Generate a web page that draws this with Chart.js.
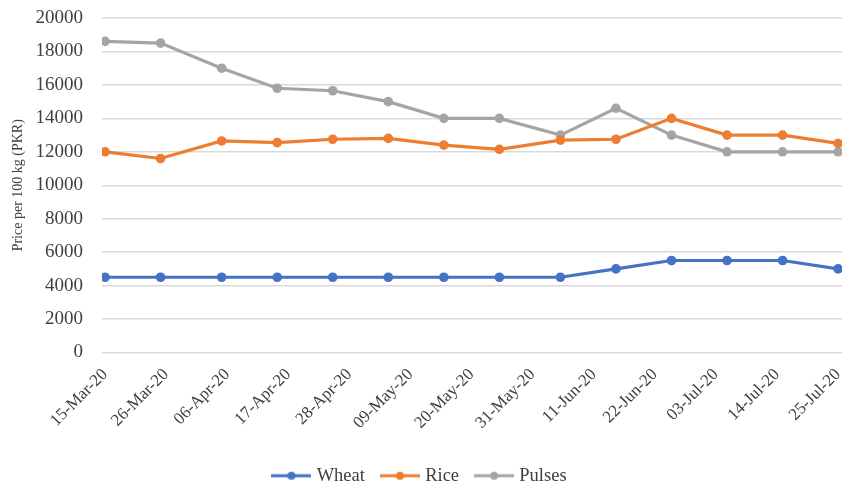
<!DOCTYPE html>
<html>
<head>
<meta charset="utf-8">
<title>Food prices, March–July 2020</title>
<script src="https://cdn.jsdelivr.net/npm/chart.js@4/dist/chart.umd.min.js"></script>
<style>
  html, body { margin: 0; padding: 0; background: #ffffff; }
  #wrap { width: 851px; height: 489px; }
</style>
</head>
<body>
<div id="wrap"><canvas id="chart" width="851" height="489"></canvas></div>
<script>
// Observation dates, as days after 15-Mar-2020 (5th, 15th and 25th of each month)
const pointDays = [0, 10, 21, 31, 41, 51, 61, 71, 82, 92, 102, 112, 122, 132];

// Prices per 100 kg (PKR)
const wheat  = [4500, 4500, 4500, 4500, 4500, 4500, 4500, 4500, 4500, 5000, 5500, 5500, 5500, 5000];
const rice   = [12000, 11600, 12650, 12550, 12750, 12800, 12400, 12150, 12700, 12750, 14000, 13000, 13000, 12500];
const pulses = [18600, 18500, 17000, 15800, 15650, 15000, 14000, 14000, 13000, 14600, 13000, 12000, 12000, 12000];

// Date axis ticks, every 11 days
const tickDays   = [0, 11, 22, 33, 44, 55, 66, 77, 88, 99, 110, 121, 132];
const tickLabels = ['15-Mar-20', '26-Mar-20', '06-Apr-20', '17-Apr-20', '28-Apr-20', '09-May-20',
                    '20-May-20', '31-May-20', '11-Jun-20', '22-Jun-20', '03-Jul-20', '14-Jul-20', '25-Jul-20'];

const seriesNames = ['Wheat', 'Rice', 'Pulses'];
const seriesColors = ['#4472C4', '#ED7D31', '#A5A5A5'];

const FONT = "'Liberation Serif', 'Times New Roman', serif";
const TEXT = '#404040';

function toPoints(values) {
  return pointDays.map((d, i) => ({ x: d, y: values[i] }));
}

// Legend marker: a short line with a dot in the middle
function legendMarker(color) {
  const c = document.createElement('canvas');
  c.width = 40; c.height = 12;
  const g = c.getContext('2d');
  g.strokeStyle = color;
  g.lineWidth = 3;
  g.beginPath(); g.moveTo(0, 6); g.lineTo(40, 6); g.stroke();
  g.fillStyle = color;
  g.beginPath(); g.arc(20, 6, 4, 0, Math.PI * 2); g.fill();
  return c;
}
const markers = seriesColors.map(legendMarker);

const datasets = [wheat, rice, pulses].map((vals, i) => ({
  label: seriesNames[i],
  data: toPoints(vals),
  borderColor: seriesColors[i],
  backgroundColor: seriesColors[i],
  borderWidth: 3.2,
  pointRadius: 4.8,
  pointHoverRadius: 4.8,
  pointBorderWidth: 0,
  tension: 0
}));

new Chart(document.getElementById('chart'), {
  type: 'line',
  data: { datasets },
  options: {
    responsive: false,
    animation: false,
    events: [],
    layout: { padding: { left: 0, right: 9, top: 18, bottom: -6 } },
    scales: {
      x: {
        type: 'linear',
        min: -0.55,
        max: 132.7,
        afterBuildTicks: (scale) => { scale.ticks = tickDays.map(v => ({ value: v })); },
        afterFit: (scale) => {
          scale.height = 95;
          scale.paddingLeft = 0;
          scale.paddingRight = 0;
        },
        grid: { display: false },
        border: { display: false },
        ticks: {
          autoSkip: false,
          minRotation: 45,
          maxRotation: 45,
          padding: 4,
          color: TEXT,
          font: { family: FONT, size: 17 },
          callback: (v) => tickLabels[tickDays.indexOf(v)]
        }
      },
      y: {
        min: 0,
        max: 20000,
        afterFit: (scale) => {
          scale.width = 102;
          scale.paddingTop = 0;
          scale.paddingBottom = 0;
        },
        grid: { color: '#d9d9d9', lineWidth: 1.5, drawTicks: false },
        border: { display: false },
        ticks: {
          stepSize: 2000,
          padding: 19,
          color: TEXT,
          font: { family: FONT, size: 19 },
          callback: (v) => String(v)
        },
        title: {
          display: true,
          text: 'Price per 100 kg (PKR)',
          color: TEXT,
          padding: { top: 10, bottom: 0 },
          font: { family: FONT, size: 14 }
        }
      }
    },
    plugins: {
      tooltip: { enabled: false },
      legend: {
        position: 'bottom',
        labels: {
          usePointStyle: true,
          pointStyleWidth: 32,
          padding: 19,
          color: TEXT,
          font: { family: FONT, size: 18.5 },
          generateLabels: (chart) => {
            const items = Chart.defaults.plugins.legend.labels.generateLabels(chart);
            items.forEach((it, i) => { it.pointStyle = markers[i]; });
            return items;
          }
        }
      }
    }
  }
});
</script>
</body>
</html>
